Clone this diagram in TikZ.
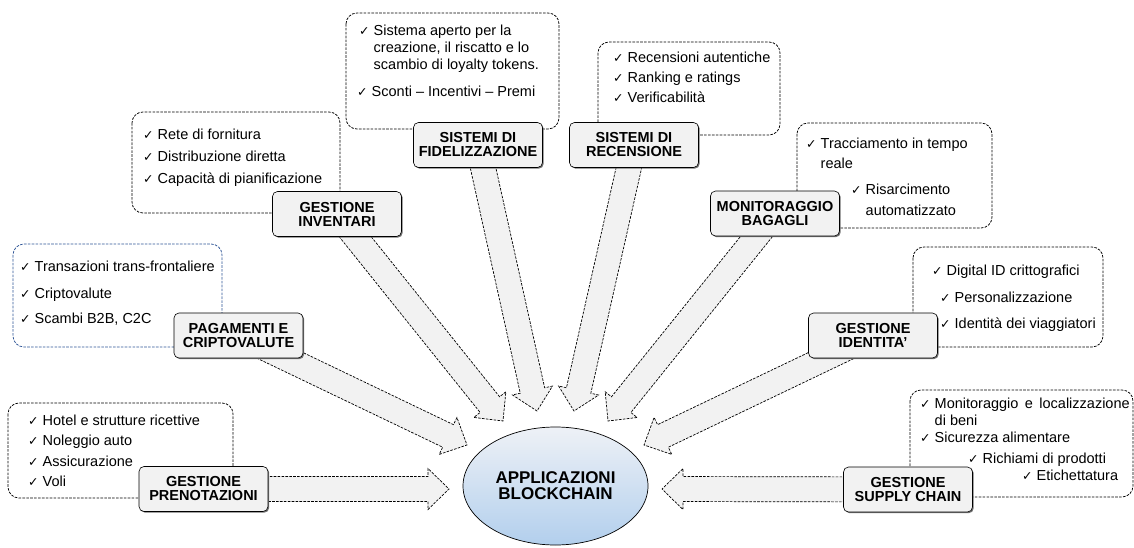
\documentclass[tikz,border=0pt]{standalone}
\usepackage{fontspec}
\setmainfont{Liberation Sans}
\newfontfamily\symfont{DejaVu Sans}
\usetikzlibrary{calc,shapes.geometric,shadows}
\pgfdeclarelayer{back}
\pgfsetlayers{back,main}

\definecolor{boxfill}{RGB}{242,242,242}
\definecolor{dashblue}{RGB}{47,85,151}
\definecolor{ellTop}{RGB}{238,241,246}
\definecolor{ellMid}{RGB}{212,227,243}
\definecolor{ellBot}{RGB}{178,207,237}

% check mark followed by the item text
\newcommand\ck{\makebox[14.5pt][l]{\symfont\fontsize{12.5}{12}\selectfont ✓}}

\tikzset{
  listbox/.style={draw, dash pattern=on 2.6pt off 1.3pt, line width=0.75pt,
    rounded corners=11pt, fill=white},
  listline/.style={anchor=base west, inner sep=0pt, font=\fontsize{14.5}{16}\selectfont},
  areabox/.style={draw, line width=0.6pt, rounded corners=5pt, fill=boxfill,
    minimum width=129pt, minimum height=45pt, inner sep=0pt, align=center,
    font=\bfseries\fontsize{14.5}{14}\selectfont,
    drop shadow={shadow xshift=1.2pt, shadow yshift=-1.2pt, fill=black!55, opacity=1}},
  blockarrow/.style={draw, fill=boxfill, dash pattern=on 2.6pt off 1.3pt,
    line width=0.7pt, line join=miter},
}

% wide block arrow from the centre of node #1 to the tip coordinate #2
\newcommand\blockarrow[2]{%
  \coordinate (#2-h) at ($(#2)!21pt!(#1.center)$);
  \path[blockarrow]
    ($(#1.center)!12.5pt!90:(#2)$) -- ($(#2-h)!12.5pt!90:(#2)$)
    -- ($(#2-h)!20.5pt!90:(#2)$) -- (#2)
    -- ($(#2-h)!20.5pt!-90:(#2)$) -- ($(#2-h)!12.5pt!-90:(#2)$)
    -- ($(#1.center)!12.5pt!-90:(#2)$) -- cycle;
}

\begin{document}
\begin{tikzpicture}[x=1pt,y=-1pt]
\begin{pgfonlayer}{back}
  \fill[white] (0,0) rectangle (1134,548);
\end{pgfonlayer}
\useasboundingbox (0,0) rectangle (1134,548);

% ---------- dashed boxes with the lists ----------
\path[listbox, draw=dashblue] (13,244) rectangle (222,347);
\node[listline] (pag1) at (20,271) {\ck Transazioni trans-frontaliere};
\node[listline] (pag2) at (20,298) {\ck Criptovalute};
\node[listline] (pag3) at (20,323) {\ck Scambi B2B, C2C};

\path[listbox] (8,403) rectangle (233,498);
\node[listline] (pre1) at (28,425) {\ck Hotel e strutture ricettive};
\node[listline] (pre2) at (28,445) {\ck Noleggio auto};
\node[listline] (pre3) at (28,466) {\ck Assicurazione};
\node[listline] (pre4) at (28,486) {\ck Voli};

\path[listbox] (132,112) rectangle (340,213);
\node[listline] (inv1) at (143,140) {\ck Rete di fornitura};
\node[listline] (inv2) at (143,162) {\ck Distribuzione diretta};
\node[listline] (inv3) at (143,183) {\ck Capacità di pianificazione};

\path[listbox] (346,13) rectangle (559,129);
\node[listline] (fid1) at (359,36) {\ck Sistema aperto per la};
\node[listline] (fid2) at (373.5,53) {creazione, il riscatto e lo};
\node[listline] (fid3) at (373.5,70) {scambio di loyalty tokens.};
\node[listline] (fid4) at (357,97) {\ck Sconti – Incentivi – Premi};

\path[listbox] (598,42) rectangle (780,135);
\node[listline] (rec1) at (613,62.5) {\ck Recensioni autentiche};
\node[listline] (rec2) at (613,82.5) {\ck Ranking e ratings};
\node[listline] (rec3) at (613,102.5) {\ck Verificabilità};

\path[listbox] (797,123) rectangle (992,228);
\node[listline] (mon1) at (806,149) {\ck Tracciamento in tempo};
\node[listline] (mon2) at (820.5,168) {reale};
\node[listline] (mon3) at (851,194) {\ck Risarcimento};
\node[listline] (mon4) at (865.5,215) {automatizzato};

\path[listbox] (913,247) rectangle (1103,347);
\node[listline] (ide1) at (932,275) {\ck Digital ID crittografici};
\node[listline] (ide2) at (940,302.5) {\ck Personalizzazione};
\node[listline] (ide3) at (940,328) {\ck Identità dei viaggiatori};

\path[listbox] (910,390) rectangle (1133,497);
\node[listline] (sup1) at (920,408) {\ck\makebox[195pt][s]{Monitoraggio e localizzazione}};
\node[listline] (sup2) at (934.5,425) {di beni};
\node[listline] (sup3) at (920,442) {\ck Sicurezza alimentare};
\node[listline] (sup4) at (968,463) {\ck Richiami di prodotti};
\node[listline] (sup5) at (1022,480) {\ck Etichettatura};

% ---------- application areas ----------
\node[areabox] (lPag) at (238.5,335.5) {PAGAMENTI E\\CRIPTOVALUTE};
\node[areabox] (lPre) at (203.5,489) {GESTIONE\\PRENOTAZIONI};
\node[areabox] (lInv) at (337,214) {GESTIONE\\INVENTARI};
\node[areabox] (lFid) at (478,145) {SISTEMI DI\\FIDELIZZAZIONE};
\node[areabox] (lRec) at (634,145) {SISTEMI DI\\RECENSIONE};
\node[areabox] (lMon) at (775,213.5) {MONITORAGGIO\\BAGAGLI};
\node[areabox] (lIde) at (873,335.5) {GESTIONE\\IDENTITA’};
\node[areabox] (lSup) at (908,489.5) {GESTIONE\\SUPPLY CHAIN};

% ---------- central ellipse ----------
\node[ellipse, draw, line width=0.7pt, minimum width=185pt, minimum height=118pt,
      top color=ellTop, middle color=ellMid, bottom color=ellBot,
      align=center, font=\bfseries\fontsize{17}{16}\selectfont]
  (core) at (555.5,486) {APPLICAZIONI\\BLOCKCHAIN};

% ---------- arrow tips ----------
\coordinate (tInv) at (503,421);
\coordinate (tFid) at (537,411);
\coordinate (tRec) at (574,411);
\coordinate (tMon) at (608,421);
\coordinate (tPag) at (467,445);
\coordinate (tIde) at (644,445);
\coordinate (tPre) at (449,489);
\coordinate (tSup) at (662,489);

\begin{pgfonlayer}{back}
  \blockarrow{lInv}{tInv}
  \blockarrow{lFid}{tFid}
  \blockarrow{lRec}{tRec}
  \blockarrow{lMon}{tMon}
  \blockarrow{lPag}{tPag}
  \blockarrow{lIde}{tIde}
  \blockarrow{lPre}{tPre}
  \blockarrow{lSup}{tSup}
\end{pgfonlayer}
\end{tikzpicture}
\end{document}
